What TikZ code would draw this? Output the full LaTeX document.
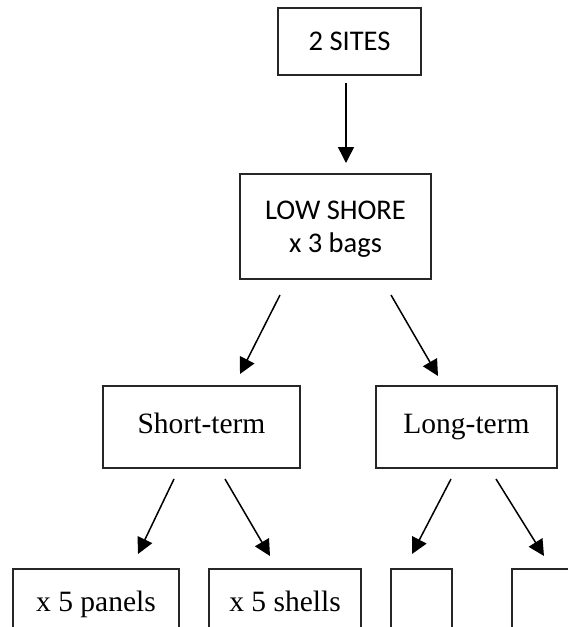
\documentclass[tikz,border=0pt]{standalone}
\usepackage{fontspec}
\setmainfont{Liberation Serif}
\newfontfamily\calib{Carlito}
\usetikzlibrary{arrows.meta}
\begin{document}
\begin{tikzpicture}[x=1pt,y=-1pt,
  boxstyle/.style={draw=black!85, line width=1.3pt, rectangle, inner sep=0pt, align=center},
  calibtext/.style={font=\calib\fontsize{28.5}{33}\selectfont},
  timestext/.style={font=\fontsize{29.5}{34}\selectfont, text height=20pt, text depth=7pt},
  arr/.style={line width=1.5pt, -{Triangle[length=16pt,width=16pt]}}]
\clip (0,0) rectangle (568,627);
\fill[white] (0,0) rectangle (568,627);
% nodes
\node[boxstyle, calibtext, minimum width=143pt, minimum height=67pt] (sites) at (349.5,41.5) {2 SITES};
\node[boxstyle, minimum width=191pt, minimum height=105pt] (low) at (335.5,226.5) {};
\node[calibtext, align=center, inner sep=0pt] (lowtext) at (335.5,229.5) {LOW SHORE\\x 3 bags};
\node[boxstyle, timestext, minimum width=197pt, minimum height=82pt] (short) at (201.5,427) {Short-term};
\node[boxstyle, timestext, minimum width=181pt, minimum height=82pt] (long) at (466.5,427) {Long-term};
\node[boxstyle, timestext, minimum width=166pt, minimum height=72pt] (b1) at (96,605) {x 5 panels};
\node[boxstyle, timestext, minimum width=152pt, minimum height=72pt] (b2) at (285,605) {x 5 shells};
\node[boxstyle, minimum width=61pt, minimum height=72pt] (b3) at (421.5,605) {};
\node[boxstyle, minimum width=88pt, minimum height=72pt] (b4) at (556,605) {};
% connector ends
\coordinate (s0) at (346,83);   \coordinate (s1) at (346,163);
\coordinate (l0) at (280,295);  \coordinate (l1) at (240,374);
\coordinate (r0) at (391,295);  \coordinate (r1) at (438,376);
\coordinate (p0) at (174,479);  \coordinate (p1) at (138,554);
\coordinate (q0) at (225,479);  \coordinate (q1) at (270,556);
\coordinate (u0) at (451,479);  \coordinate (u1) at (412,554);
\coordinate (v0) at (496,479);  \coordinate (v1) at (544,556);
% connectors
\draw[arr] (s0) -- (s1);
\draw[arr] (l0) -- (l1);
\draw[arr] (r0) -- (r1);
\draw[arr] (p0) -- (p1);
\draw[arr] (q0) -- (q1);
\draw[arr] (u0) -- (u1);
\draw[arr] (v0) -- (v1);
\end{tikzpicture}
\end{document}
